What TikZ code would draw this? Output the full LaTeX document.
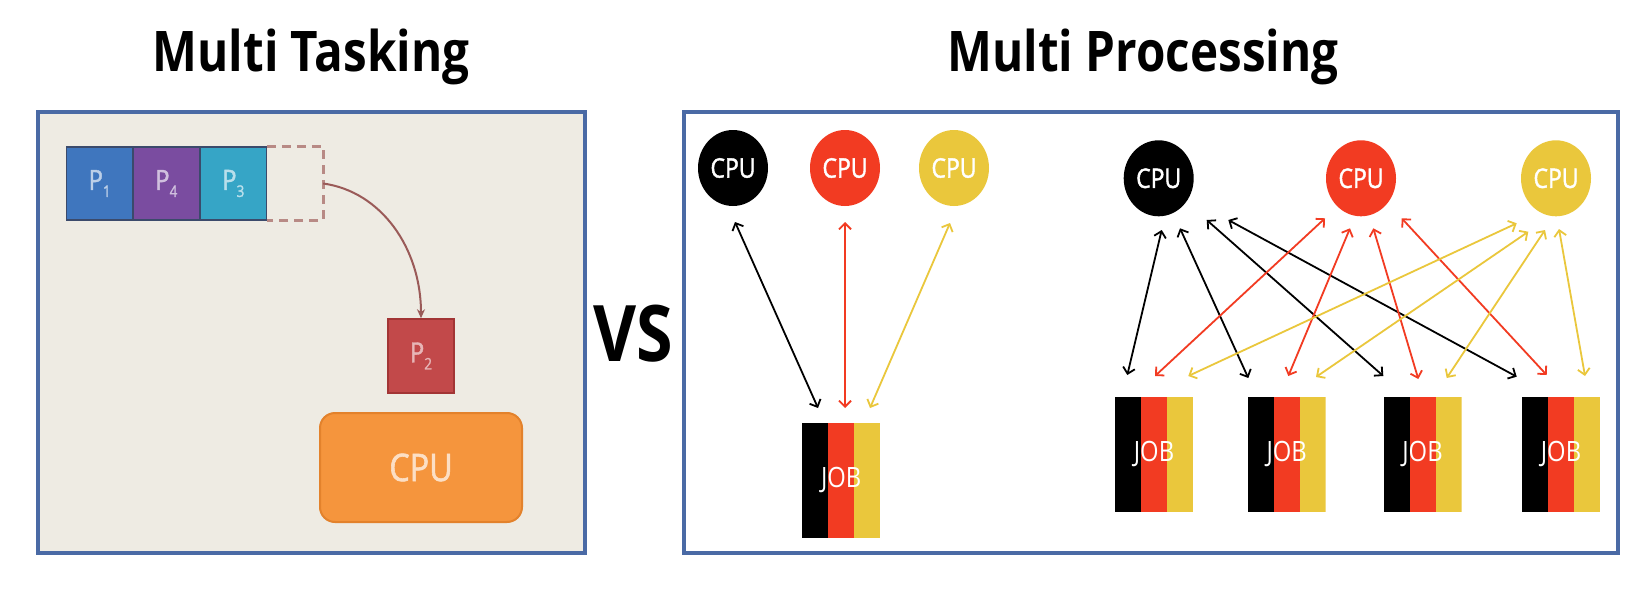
\documentclass[tikz,border=0pt]{standalone}
\usepackage{fontspec}
\setmainfont{Open Sans}
\newfontfamily\nfont[FakeStretch=0.85]{Open Sans}
\newfontfamily\mfont[FakeStretch=0.85,FakeBold=1.5]{Open Sans}
\usetikzlibrary{arrows.meta,shapes.geometric,calc}
\definecolor{frameblue}{HTML}{4A6AA5}
\definecolor{beige}{HTML}{EEEBE3}
\definecolor{pone}{HTML}{3F76BE}
\definecolor{pfour}{HTML}{7A4CA0}
\definecolor{pthree}{HTML}{36A5C6}
\definecolor{pedge}{HTML}{3B4A6B}
\definecolor{ptwo}{HTML}{C2494A}
\definecolor{ptwoedge}{HTML}{A23535}
\definecolor{orangecpu}{HTML}{F5953D}
\definecolor{orangeedge}{HTML}{E3822C}
\definecolor{slotc}{HTML}{B88A85}
\definecolor{curvec}{HTML}{9A5A58}
\definecolor{cred}{HTML}{F23B22}
\definecolor{cyel}{HTML}{EAC73C}
\newcommand{\plabel}[1]{\mfont\fontsize{28}{28}\selectfont P\raisebox{-7pt}{\fontsize{16}{16}\selectfont #1}}
\begin{document}
\begin{tikzpicture}[x=1pt,y=-1pt,
  frame/.style={draw=frameblue,line width=3.5pt},
  pbox/.style={minimum width=66pt,minimum height=73pt,inner sep=0pt,draw=pedge,line width=1.5pt},
  cpuc/.style={ellipse,minimum width=70pt,minimum height=76pt,inner sep=0pt,text=white,font=\mfont\fontsize{27}{27}\selectfont},
  jobbox/.style={minimum width=78pt,minimum height=115pt,inner sep=0pt,text=white,
    font=\nfont\fontsize{28}{28}\selectfont,
    path picture={
      \fill[black] (path picture bounding box.north west) rectangle ($(path picture bounding box.south west)!1/3!(path picture bounding box.south east)$);
      \fill[cred] ($(path picture bounding box.north west)!1/3!(path picture bounding box.north east)$) rectangle ($(path picture bounding box.south west)!2/3!(path picture bounding box.south east)$);
      \fill[cyel] ($(path picture bounding box.north west)!2/3!(path picture bounding box.north east)$) rectangle (path picture bounding box.south east);
    }},
  link/.style={line width=1.8pt,{Straight Barb[length=6pt,width=12pt]}-{Straight Barb[length=6pt,width=12pt]}},
  title/.style={font=\nfont\bfseries\fontsize{56}{56}\selectfont,anchor=base,inner sep=0pt}
]
\useasboundingbox (0,0) rectangle (1650,602);
\fill[white] (0,0) rectangle (1650,602);

% titles
\node[title] (t1) at (311,72) {Multi Tasking};
\node[title] (t2) at (1143,72) {Multi Processing};
\node[font=\nfont\bfseries\fontsize{78}{78}\selectfont,anchor=base,inner sep=0pt] (vs) at (633,361) {VS};

% left frame
\draw[frame,fill=beige] (38,112) rectangle (585,553);
\node[pbox,fill=pone,text=pone!35!white] (p1) at (99.7,183.5) {\plabel{1}};
\node[pbox,fill=pfour,text=pfour!35!white] (p4) at (166.3,183.5) {\plabel{4}};
\node[pbox,fill=pthree,text=pthree!35!white] (p3) at (233.3,183.5) {\plabel{3}};
\node[minimum width=56pt,minimum height=73pt,inner sep=0pt] (slot) at (295,183.5) {};
\draw[slotc,line width=3pt,dash pattern=on 9pt off 6pt] (slot.north west) -- (slot.north east) -- (slot.south east) -- (slot.south west);
\node[minimum width=66pt,minimum height=74pt,inner sep=0pt,fill=ptwo,draw=ptwoedge,line width=1.5pt,text=ptwo!40!white] (p2) at (421,356) {\plabel{2}};
\node[minimum width=202pt,minimum height=109pt,inner sep=0pt,rounded corners=15pt,fill=orangecpu,draw=orangeedge,line width=2pt,text=orangecpu!30!white,font=\mfont\fontsize{38}{38}\selectfont] (cpuo) at (421,467.5) {CPU};
\draw[curvec,line width=2pt,-{Stealth[length=9pt,width=8pt]}] (slot.east) .. controls ($(slot.east)+(58,8)$) and ($(p2.north)+(0,-70)$) .. (p2.north);

% right frame
\draw[frame,fill=white] (684,112) rectangle (1618,553);

% left group
\node[cpuc,fill=black] (lk) at (733,168) {CPU};
\node[cpuc,fill=cred] (lr) at (845,168) {CPU};
\node[cpuc,fill=cyel] (ly) at (954,168) {CPU};
\node[jobbox] (ljob) at (841.2,480) {JOB};

% right group
\node[cpuc,fill=black] (rk) at (1158.7,178.3) {CPU};
\node[cpuc,fill=cred] (rr) at (1361,178.3) {CPU};
\node[cpuc,fill=cyel] (ry) at (1556,178.3) {CPU};
\node[jobbox] (j1) at (1154,454) {JOB};
\node[jobbox] (j2) at (1286.7,454) {JOB};
\node[jobbox] (j3) at (1422.5,454) {JOB};
\node[jobbox] (j4) at (1561,454) {JOB};

\foreach \n/\col/\x/\y/\u/\v in {
  la/black/735/222/818/408, lb/cred/845/222/845/408, lc/cyel/950/223/870/408,
  k1/black/1161.7/230/1127.3/375, k2/black/1180/228.3/1248.3/378,
  k3/black/1206.7/220/1383.3/376, k4/black/1228.3/220/1516.7/376.7,
  r1/cred/1325/218.3/1155/376, r2/cred/1350/228.3/1288.3/376,
  r3/cred/1373.3/228.3/1418.3/379, r4/cred/1401.7/218.3/1546.7/375,
  y1/cyel/1516.7/223.3/1188.3/376, y2/cyel/1528.3/231.7/1316/377,
  y3/cyel/1545/230/1446.7/378, y4/cyel/1559/229/1585/376}
{
  \coordinate (s\n) at (\x,\y);
  \coordinate (e\n) at (\u,\v);
  \draw[link,draw=\col] (s\n) -- (e\n);
}
\end{tikzpicture}
\end{document}
